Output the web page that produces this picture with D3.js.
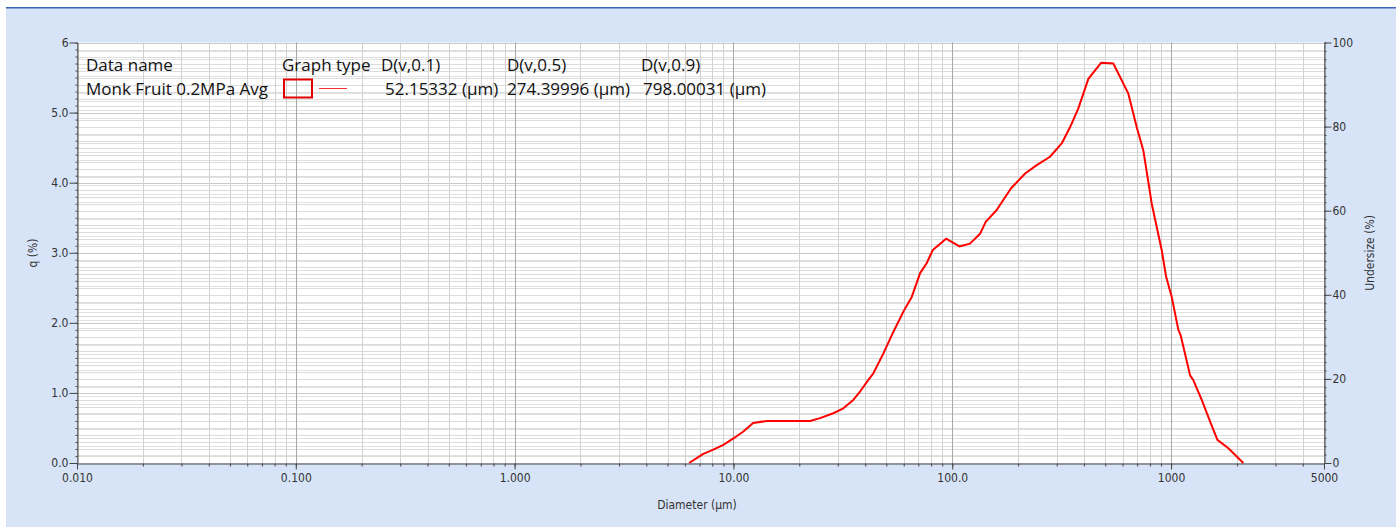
<!DOCTYPE html>
<html><head><meta charset="utf-8">
<script src="https://cdn.jsdelivr.net/npm/d3@7"></script>
<style>
body{margin:0;background:#fff;}
svg{display:block}
.tk text{font-family:"Liberation Sans Narrow","DejaVu Sans Condensed","Arial Narrow",sans-serif;font-size:12px;fill:#333;}
.lg{font-family:"Open Sans","Noto Sans",sans-serif;font-size:17px;fill:#111;}
</style>
</head><body>
<svg id="c" width="1396" height="529"></svg>
<script>
// ---- data ----
const diameters = [6.27,7.28,8.09,8.99,10.0,11.1,12.3,14.2,16.3,22.4,24.9,28.6,31.8,35.3,37.9,41.2,43.6,48.4,53.8,59.8,65.3,71.3,76.4,81.5,93.7,107.8,120.5,134,142.2,159.6,185.7,215.3,243.3,279.8,316.4,345.3,377,418.8,478.6,544.8,638,697,747,816,906,949,1007,1080,1107,1222,1265,1381,1518,1629,1828,2139];
const qValues = [0,0.13,0.19,0.26,0.35,0.45,0.57,0.60,0.60,0.60,0.64,0.71,0.78,0.90,1.02,1.18,1.28,1.56,1.87,2.16,2.37,2.71,2.85,3.04,3.20,3.09,3.13,3.27,3.44,3.61,3.92,4.13,4.25,4.37,4.56,4.79,5.06,5.48,5.71,5.70,5.27,4.79,4.46,3.70,3.04,2.66,2.37,1.90,1.82,1.25,1.18,0.90,0.57,0.33,0.21,0];
const xTickValues = [0.01,0.1,1,10,100,1000,5000];
const xTickLabels = ["0.010","0.100","1.000","10.00","100.0","1000","5000"];
const yLeftTicks = [0,1,2,3,4,5,6];
const yLeftLabels = ["0.0","1.0","2.0","3.0","4.0","5.0","6"];
const yRightTicks = [0,20,40,60,80,100];
const yRightLabels = ["0","20","40","60","80","100"];
const legendHeaders = ["Data name","Graph type","D(v,0.1)","D(v,0.5)","D(v,0.9)"];
const seriesName = "Monk Fruit 0.2MPa Avg";
const dValues = ["52.15332 (µm)","274.39996 (µm)","798.00031 (µm)"];
const xTitle = "Diameter (µm)", yLeftTitle = "q (%)", yRightTitle = "Undersize (%)";

// ---- layout ----
const L = 77, R = 1324, T = 42.5, B = 463;
const svg = d3.select("#c");
svg.append("rect").attr("x",6).attr("y",8).attr("width",1390).attr("height",519).attr("fill","#d7e4f8");
svg.append("rect").attr("x",6).attr("y",7).attr("width",1390).attr("height",1.5).attr("fill","#3c64b4");
svg.append("rect").attr("x",L).attr("y",T).attr("width",R-L).attr("height",B-T).attr("fill","#fff");

const x = d3.scaleLog().domain([0.01,5000]).range([L,R]);
const yL = d3.scaleLinear().domain([0,6]).range([B,T]);
const yR = d3.scaleLinear().domain([0,100]).range([B,T]);
const px = v => Math.round(v)+0.5;

const xMinor = [];
for (let e=-2;e<=3;e++) for (let k=1;k<=9;k++){ const v=k*Math.pow(10,e); if (v<=5000.0001) xMinor.push(+v.toPrecision(3)); }
const yLMinor = d3.range(1,61).map(i=>i/10);
const yRMinor = d3.range(1,51).map(i=>i*2);

const grid = svg.append("g");
grid.selectAll(".hr").data(yRMinor).join("line")
  .attr("x1",L).attr("x2",R).attr("y1",d=>px(yR(d))).attr("y2",d=>px(yR(d)))
  .attr("stroke",d=>d%20===0?"#cacaca":"#e2e2e2").attr("stroke-width",1);
grid.selectAll(".hl").data(yLMinor).join("line")
  .attr("x1",L).attr("x2",R).attr("y1",d=>px(yL(d))).attr("y2",d=>px(yL(d)))
  .attr("stroke",d=>Math.abs(d-Math.round(d))<1e-6?"#cacaca":"#dcdcdc").attr("stroke-width",1);
grid.selectAll(".v").data(xMinor).join("line")
  .attr("x1",d=>px(x(d))).attr("x2",d=>px(x(d))).attr("y1",T).attr("y2",B)
  .attr("stroke",d=>xTickValues.includes(d)?"#a8a8a8":"#d2d2d2").attr("stroke-width",1);

function styleAxis(g){ g.selectAll("path.domain").attr("stroke","#444"); g.selectAll(".tick line").attr("stroke","#444"); g.attr("class","tk"); }
svg.append("g").attr("transform",`translate(0,${B+0.5})`)
  .call(d3.axisBottom(x).tickValues(xMinor).tickSize(3).tickSizeOuter(0).tickFormat(""))
  .call(styleAxis);
svg.append("g").attr("transform",`translate(0,${B+0.5})`)
  .call(d3.axisBottom(x).tickValues(xTickValues).tickSize(6).tickSizeOuter(0).tickPadding(4).tickFormat((d,i)=>xTickLabels[i]))
  .call(styleAxis).call(g=>g.select("path.domain").remove());
svg.append("g").attr("transform",`translate(${L+0.5},0)`)
  .call(d3.axisLeft(yL).tickValues(yLMinor).tickSize(2).tickSizeOuter(0).tickFormat(""))
  .call(styleAxis);
svg.append("g").attr("transform",`translate(${L+0.5},0)`)
  .call(d3.axisLeft(yL).tickValues(yLeftTicks).tickSize(8).tickSizeOuter(0).tickPadding(1).tickFormat((d,i)=>yLeftLabels[i]))
  .call(styleAxis).call(g=>g.select("path.domain").remove());
svg.append("g").attr("transform",`translate(${R+0.5},0)`)
  .call(d3.axisRight(yR).tickValues(yRMinor).tickSize(2).tickSizeOuter(0).tickFormat(""))
  .call(styleAxis);
svg.append("g").attr("transform",`translate(${R+0.5},0)`)
  .call(d3.axisRight(yR).tickValues(yRightTicks).tickSize(7).tickSizeOuter(0).tickPadding(1).tickFormat((d,i)=>yRightLabels[i]))
  .call(styleAxis).call(g=>g.select("path.domain").remove());

const tt = svg.append("g").attr("class","tk");
tt.append("text").attr("x",697).attr("y",509).attr("text-anchor","middle").text(xTitle);
tt.append("text").attr("transform","translate(37,253) rotate(-90)").attr("text-anchor","middle").text(yLeftTitle);
tt.append("text").attr("transform","translate(1374,253) rotate(-90)").attr("text-anchor","middle").text(yRightTitle);

const pts = diameters.map((d,i)=>[d,qValues[i]]);
svg.append("path").datum(pts)
  .attr("d", d3.line().x(d=>x(d[0])).y(d=>yL(d[1])))
  .attr("fill","none").attr("stroke","#ff0000").attr("stroke-width",2).attr("stroke-linejoin","round");

const lg = svg.append("g");
const hx = [86,282,381,507,641];
legendHeaders.forEach((h,i)=>lg.append("text").attr("class","lg").attr("x",hx[i]).attr("y",70.5).text(h));
lg.append("text").attr("class","lg").attr("x",86).attr("y",95).text(seriesName);
lg.append("rect").attr("x",284).attr("y",79.5).attr("width",28).attr("height",18).attr("fill","none").attr("stroke","#e00000").attr("stroke-width",2);
lg.append("line").attr("x1",319).attr("x2",347).attr("y1",88.5).attr("y2",88.5).attr("stroke","#ff3030").attr("stroke-width",1);
const vx = [385,507,643];
dValues.forEach((v,i)=>lg.append("text").attr("class","lg").attr("x",vx[i]).attr("y",95).text(v));
</script>
</body></html>
